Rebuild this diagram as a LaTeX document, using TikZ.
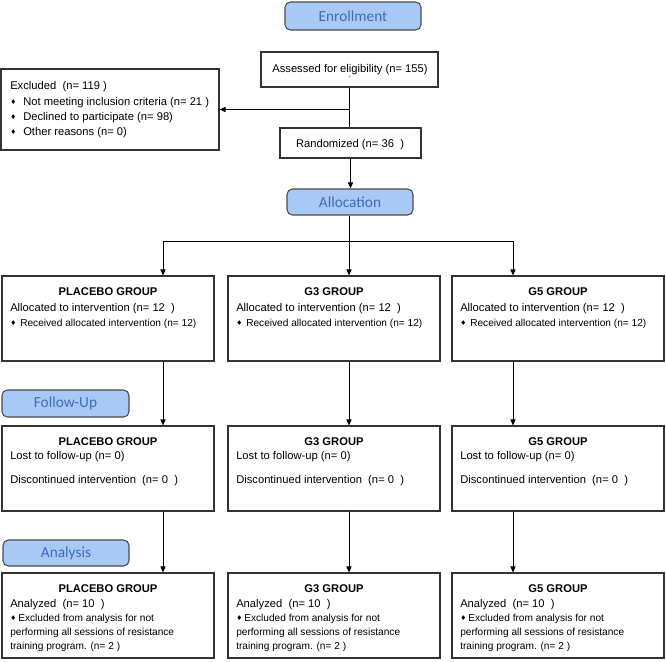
\documentclass[tikz,border=0pt]{standalone}
\usepackage{fontspec}
\setmainfont{Liberation Sans}
\newfontfamily\labfont{Carlito}
\newfontfamily\diafont{DejaVu Sans}
\usetikzlibrary{arrows.meta,fit}
\definecolor{labfill}{HTML}{A8C8F5}
\definecolor{labtext}{HTML}{3D6DB5}
\definecolor{edge}{HTML}{333333}
\newcommand\bul[1]{\makebox[#1][l]{\diafont\fontsize{5}{5}\selectfont\raisebox{0.6pt}{♦}}}
\begin{document}
\begin{tikzpicture}[x=0.75pt,y=-0.75pt,
  box/.style={draw=edge, line width=0.8pt, inner sep=0pt, fill=white},
  lab/.style={draw=black!70, fill=labfill, rounded corners=4pt, line width=0.8pt, inner sep=0pt,
    font=\labfont\fontsize{11.5}{12}\selectfont, text=labtext},
  tx/.style={anchor=base west, inner sep=0pt, font=\fontsize{8.4}{10}\selectfont},
  sm/.style={anchor=base west, inner sep=0pt, font=\fontsize{7.6}{9}\selectfont},
  ctx/.style={anchor=base, inner sep=0pt, font=\fontsize{8.4}{10}\selectfont},
  ttl/.style={anchor=base, inner sep=0pt, font=\bfseries\fontsize{8.4}{10}\selectfont},
  conn/.style={draw=black, line width=0.75pt},
  arr/.style={conn, -{Triangle[length=4.5pt,width=3.8pt]}}]
\useasboundingbox (0,0) rectangle (666,661);

% phase labels
\node[lab, minimum width=102pt, minimum height=21pt] (enr) at (353,16) {Enrollment};
\node[lab, minimum width=94.5pt, minimum height=19.5pt] (alc) at (350,202) {Allocation};
\node[lab, minimum width=95.25pt, minimum height=20.25pt] (fup) at (65.5,403.5) {Follow-Up};
\node[lab, minimum width=94.5pt, minimum height=19.5pt] (ana) at (66,553) {Analysis};

% enrollment boxes
\node[box, fit={(261,52)(438,87)}] (ass) {};
\node[ctx] (asst) at (350,72) {Assessed for eligibility (n= 155)};
\node[anchor=north, inner sep=0pt, font=\fontsize{6}{6}\selectfont] (asstick) at (350,76) {`};

\node[box, fit={(1,69)(219,150)}] (exc) {};
\node[tx] (exc1) at (10,89) {Excluded\ \ (n= 119 )};
\node[tx] (exc2) at (10,105) {\bul{9.75pt}Not meeting inclusion criteria (n= 21 )};
\node[tx] (exc3) at (10,120) {\bul{9.75pt}Declined to participate (n= 98)};
\node[tx] (exc4) at (10,135) {\bul{9.75pt}Other reasons (n= 0)};

\node[box, fit={(280,128)(421,158)}] (rnd) {};
\node[ctx] (rndt) at (350,147) {Randomized (n= 36\ \ )};

% group boxes
\foreach \c/\l/\t in {1/2/PLACEBO GROUP,2/228/G3 GROUP,3/452/G5 GROUP}{
  \node[box, fit={(\l,276)({\l+212},361)}] (g\c) {};
  \node[ttl] (g\c t) at ({\l+106},295) {\t};
  \node[tx] (g\c a) at ({\l+8},311) {Allocated to intervention (n= 12\ \ )};
  \node[sm] (g\c b) at ({\l+8},326) {\bul{7.5pt}Received allocated intervention (n= 12)};
  \node[box, fit={(\l,426)({\l+212},511)}] (f\c) {};
  \node[ttl] (f\c t) at ({\l+106},445) {\t};
  \node[tx] (f\c a) at ({\l+8},459) {Lost to follow-up (n= 0)};
  \node[tx] (f\c b) at ({\l+8},483) {Discontinued intervention\ \ (n= 0\ \ )};
  \node[box, fit={(\l,573)({\l+212},658)}] (a\c) {};
  \node[ttl] (a\c t) at ({\l+106},592) {\t};
  \node[tx] (a\c a) at ({\l+8},607) {Analyzed\ \ (n= 10\ \ )};
  \node[sm] (a\c b) at ({\l+8},621.6) {\bul{6pt}Excluded from analysis for not};
  \node[sm] (a\c c) at ({\l+8},635.6) {performing all sessions of resistance};
  \node[sm] (a\c d) at ({\l+8},649.6) {training program. (n= 2 )};
}

% connectors
\draw[conn] (ass.south) -- (ass.south |- rnd.north);
\draw[arr] (ass.south |- exc.east) -- (exc.east);
\draw[arr] (rnd.south) -- (rnd.south |- alc.north);
\coordinate (sp) at (349,241);
\coordinate (spL) at (163,241);
\coordinate (spR) at (513,241);
\draw[conn] (alc.south -| sp) -- (sp);
\draw[conn] (spL) -- (spR);
\draw[arr] (spL) -- (spL |- g1.north);
\draw[arr] (sp) -- (sp |- g2.north);
\draw[arr] (spR) -- (spR |- g3.north);
\draw[arr] (g1.south -| spL) -- (f1.north -| spL);
\draw[arr] (g2.south -| sp) -- (f2.north -| sp);
\draw[arr] (g3.south -| spR) -- (f3.north -| spR);
\draw[arr] (f1.south -| spL) -- (a1.north -| spL);
\draw[arr] (f2.south -| sp) -- (a2.north -| sp);
\draw[arr] (f3.south -| spR) -- (a3.north -| spR);
\end{tikzpicture}
\end{document}
